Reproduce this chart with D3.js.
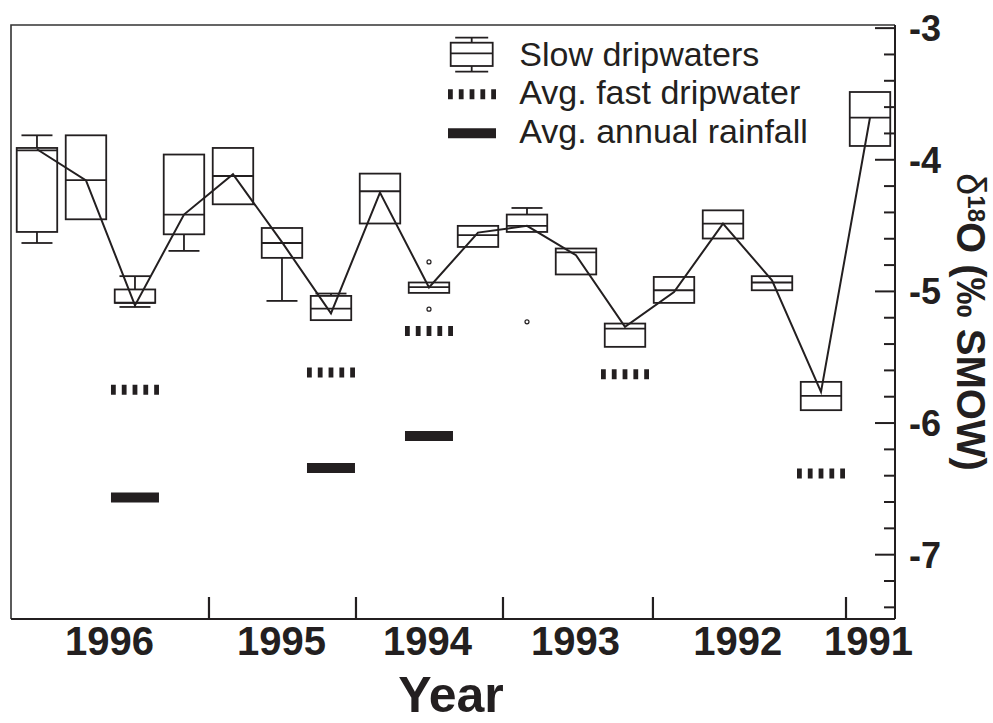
<!DOCTYPE html>
<html>
<head>
<meta charset="utf-8">
<script src="https://cdn.jsdelivr.net/npm/d3@7"></script>
<style>
  html, body { margin: 0; padding: 0; background: #fff; }
  svg { display: block; font-family: "Liberation Sans", Arial, sans-serif; }
</style>
</head>
<body>
<svg id="chart" width="993" height="723"></svg>
<script>
// Sampling periods, ordered from most recent (left) to oldest (right)
const periods = [0, 1, 2, 3, 4, 5, 6, 7, 8, 9, 10, 11, 12, 13, 14, 15, 16, 17];

// Slow dripwater δ18O box statistics (‰ SMOW); null = no whisker drawn
const whiskerHigh = [-3.818, null, -4.888, null, null, null, -5.020, null, null, null, -4.370, null, null, null, null, null, null, null];
const upperQuartile = [-3.914, -3.818, -4.989, -3.964, -3.914, -4.522, -5.038, -4.109, -4.936, -4.506, -4.420, -4.678, -5.248, -4.894, -4.388, -4.888, -5.691, -3.489];
const medians = [-3.932, -4.159, -5.090, -4.420, -4.127, -4.636, -5.134, -4.243, -4.972, -4.577, -4.506, -4.708, -5.286, -4.995, -4.489, -4.936, -5.797, -3.683];
const lowerQuartile = [-4.552, -4.456, -5.091, -4.570, -4.342, -4.749, -5.222, -4.488, -5.015, -4.666, -4.552, -4.875, -5.425, -5.091, -4.602, -4.995, -5.906, -3.899];
const whiskerLow = [-4.636, null, -5.122, -4.696, null, -5.076, null, null, null, null, null, null, null, null, null, null, null, null];

// Trend line through the slow dripwater values
const trendValues = [-3.924, -4.160, -5.110, -4.420, -4.114, -4.630, -5.170, -4.253, -4.974, -4.557, -4.506, -4.729, -5.273, -5.008, -4.489, -4.919, -5.767, -3.683];

// Outlying slow dripwater samples
const outlierPeriods = [8, 8, 10];
const outlierValues = [-4.780, -5.139, -5.235];

// Average fast dripwater per year
const fastPeriods = [2, 6, 8, 12, 16];
const fastValues = [-5.750, -5.620, -5.304, -5.633, -6.387];

// Average annual rainfall
const rainPeriods = [2, 6, 8];
const rainValues = [-6.569, -6.346, -6.103];

// Year axis: boundaries between years and the year labels
const yearBoundaries = [3.5, 6.5, 9.5, 12.56, 16.5];
const yearLabels = ["1996", "1995", "1994", "1993", "1992", "1991"];
const yearLabelAt = [1.47, 4.98, 7.96, 10.98, 14.29, 16.96];

// δ18O axis ticks
const majorTicks = [-3, -4, -5, -6, -7];
const minorTicks = [-3.2, -3.4, -3.6, -3.8, -4.2, -4.4, -4.6, -4.8, -5.2, -5.4, -5.6, -5.8,
                    -6.2, -6.4, -6.6, -6.8, -7.2, -7.4];

(function draw() {
  const ink = "#231f20";
  const svg = d3.select("#chart");

  const left = 11, right = 895, plotTop = 25, plotBottom = 619;
  const x = d3.scaleLinear().domain([-0.53, 17.51]).range([left, right]);
  const y = d3.scaleLinear().domain([-7.5, -2.98]).range([620, plotTop]);

  const boxW = 40.5, capW = 31, markW = 48;

  // frame (top and left edges)
  svg.append("path")
    .attr("d", `M${left},${plotBottom} V${plotTop} H${right}`)
    .attr("fill", "none").attr("stroke", "#333").attr("stroke-width", 1.6);

  // right δ18O axis
  const yMinor = d3.axisRight(y).tickValues(minorTicks).tickSize(-11).tickFormat("");
  const yMajor = d3.axisRight(y).tickValues(majorTicks).tickSize(-20).tickPadding(14)
    .tickFormat(d3.format("d"));
  const gyMinor = svg.append("g").attr("transform", `translate(${right},0)`).call(yMinor);
  const gyMajor = svg.append("g").attr("transform", `translate(${right},0)`).call(yMajor);
  [gyMinor, gyMajor].forEach(g => {
    g.select(".domain").attr("d", `M0,${plotTop}V${plotBottom}`).attr("stroke", ink).attr("stroke-width", 2);
    g.selectAll(".tick line").attr("stroke", ink).attr("stroke-width", 2);
  });
  gyMajor.selectAll(".tick text")
    .attr("fill", ink).attr("font-size", 36).attr("font-weight", "bold")
    .attr("font-family", "Liberation Sans, Arial, sans-serif")
    .attr("dy", "0.36em")
    .text(d => "-" + Math.abs(d));

  // bottom year axis
  const xTicks = d3.axisBottom(x).tickValues(yearBoundaries).tickSize(-22).tickFormat("");
  const gxTicks = svg.append("g").attr("transform", `translate(0,${plotBottom})`).call(xTicks);
  gxTicks.select(".domain").attr("d", `M${left},0H${right}`).attr("stroke", ink).attr("stroke-width", 2.2);
  gxTicks.selectAll(".tick line").attr("stroke", ink).attr("stroke-width", 2.2);

  const xLabels = d3.axisBottom(x).tickValues(yearLabelAt).tickSize(0).tickPadding(8)
    .tickFormat((d, i) => yearLabels[i]);
  const gxLabels = svg.append("g").attr("transform", `translate(0,${plotBottom})`).call(xLabels);
  gxLabels.select(".domain").remove();
  gxLabels.selectAll(".tick text")
    .attr("fill", ink).attr("font-size", 40).attr("font-weight", "bold")
    .attr("font-family", "Liberation Sans, Arial, sans-serif");

  // axis titles
  svg.append("text")
    .attr("x", 451).attr("y", 712)
    .attr("text-anchor", "middle")
    .attr("font-size", 50).attr("font-weight", "bold").attr("fill", ink)
    .text("Year");

  const yTitle = svg.append("text")
    .attr("transform", "translate(957,322) rotate(90)")
    .attr("text-anchor", "middle")
    .attr("font-size", 40).attr("fill", ink);
  yTitle.append("tspan").attr("font-weight", "normal").text("δ");
  yTitle.append("tspan").attr("font-size", 24).attr("font-weight", "bold").attr("dy", -11).text("18");
  yTitle.append("tspan").attr("font-weight", "bold").attr("dy", 11).text("O (‰ SMOW)");

  // rainfall and fast dripwater averages
  const plot = svg.append("g");
  plot.selectAll("line.rain")
    .data(rainPeriods.map((p, i) => ({ p, v: rainValues[i] })))
    .join("line").attr("class", "rain")
    .attr("x1", d => x(d.p) - markW / 2).attr("x2", d => x(d.p) + markW / 2)
    .attr("y1", d => y(d.v)).attr("y2", d => y(d.v))
    .attr("stroke", ink).attr("stroke-width", 10);

  plot.selectAll("line.fast")
    .data(fastPeriods.map((p, i) => ({ p, v: fastValues[i] })))
    .join("line").attr("class", "fast")
    .attr("x1", d => x(d.p) - markW / 2).attr("x2", d => x(d.p) + markW / 2)
    .attr("y1", d => y(d.v)).attr("y2", d => y(d.v))
    .attr("stroke", ink).attr("stroke-width", 10)
    .attr("stroke-dasharray", "4.8 6");

  // slow dripwater box plots
  const boxes = periods.map((p, i) => ({
    p, hi: whiskerHigh[i], q3: upperQuartile[i], med: medians[i], q1: lowerQuartile[i], lo: whiskerLow[i]
  }));
  const bg = plot.selectAll("g.box").data(boxes).join("g").attr("class", "box")
    .attr("fill", "none").attr("stroke", ink).attr("stroke-width", 1.8);

  bg.filter(d => d.hi !== null).each(function (d) {
    const g = d3.select(this);
    g.append("line").attr("x1", x(d.p)).attr("x2", x(d.p)).attr("y1", y(d.hi)).attr("y2", y(d.q3));
    g.append("line").attr("x1", x(d.p) - capW / 2).attr("x2", x(d.p) + capW / 2)
      .attr("y1", y(d.hi)).attr("y2", y(d.hi));
  });
  bg.filter(d => d.lo !== null).each(function (d) {
    const g = d3.select(this);
    g.append("line").attr("x1", x(d.p)).attr("x2", x(d.p)).attr("y1", y(d.q1)).attr("y2", y(d.lo));
    g.append("line").attr("x1", x(d.p) - capW / 2).attr("x2", x(d.p) + capW / 2)
      .attr("y1", y(d.lo)).attr("y2", y(d.lo));
  });
  bg.append("rect")
    .attr("x", d => x(d.p) - boxW / 2).attr("width", boxW)
    .attr("y", d => y(d.q3)).attr("height", d => y(d.q1) - y(d.q3));
  bg.append("line")
    .attr("x1", d => x(d.p) - boxW / 2).attr("x2", d => x(d.p) + boxW / 2)
    .attr("y1", d => y(d.med)).attr("y2", d => y(d.med));

  plot.selectAll("circle.outlier")
    .data(outlierPeriods.map((p, i) => ({ p, v: outlierValues[i] })))
    .join("circle").attr("class", "outlier")
    .attr("cx", d => x(d.p)).attr("cy", d => y(d.v)).attr("r", 2)
    .attr("fill", "none").attr("stroke", ink).attr("stroke-width", 1.2);

  // trend line
  plot.append("path")
    .datum(periods.map((p, i) => [p, trendValues[i]]))
    .attr("fill", "none").attr("stroke", ink).attr("stroke-width", 2)
    .attr("d", d3.line().x(d => x(d[0])).y(d => y(d[1])));

  // legend
  const lg = svg.append("g");
  const lx = 471.7;
  const lgBox = lg.append("g").attr("fill", "none").attr("stroke", ink).attr("stroke-width", 1.8);
  lgBox.append("line").attr("x1", lx).attr("x2", lx).attr("y1", 37.7).attr("y2", 71.7);
  lgBox.append("line").attr("x1", lx - 16.5).attr("x2", lx + 16.5).attr("y1", 37.7).attr("y2", 37.7);
  lgBox.append("line").attr("x1", lx - 16.5).attr("x2", lx + 16.5).attr("y1", 71.7).attr("y2", 71.7);
  lgBox.append("rect").attr("x", lx - 21).attr("y", 42.7).attr("width", 42).attr("height", 23.3)
    .attr("fill", "#fff");
  lgBox.append("line").attr("x1", lx - 21).attr("x2", lx + 21).attr("y1", 53.3).attr("y2", 53.3);

  lg.append("line").attr("x1", 448).attr("x2", 496).attr("y1", 94.3).attr("y2", 94.3)
    .attr("stroke", ink).attr("stroke-width", 10).attr("stroke-dasharray", "4.8 6");
  lg.append("line").attr("x1", 448).attr("x2", 496).attr("y1", 133.3).attr("y2", 133.3)
    .attr("stroke", ink).attr("stroke-width", 10);

  const legendLabels = ["Slow dripwaters", "Avg. fast dripwater", "Avg. annual rainfall"];
  const legendBaselines = [65.7, 104.3, 143.3];
  lg.selectAll("text.leg").data(legendLabels).join("text").attr("class", "leg")
    .attr("x", 519.3).attr("y", (d, i) => legendBaselines[i])
    .attr("font-size", 34).attr("fill", ink)
    .text(d => d);
})();
</script>
</body>
</html>
